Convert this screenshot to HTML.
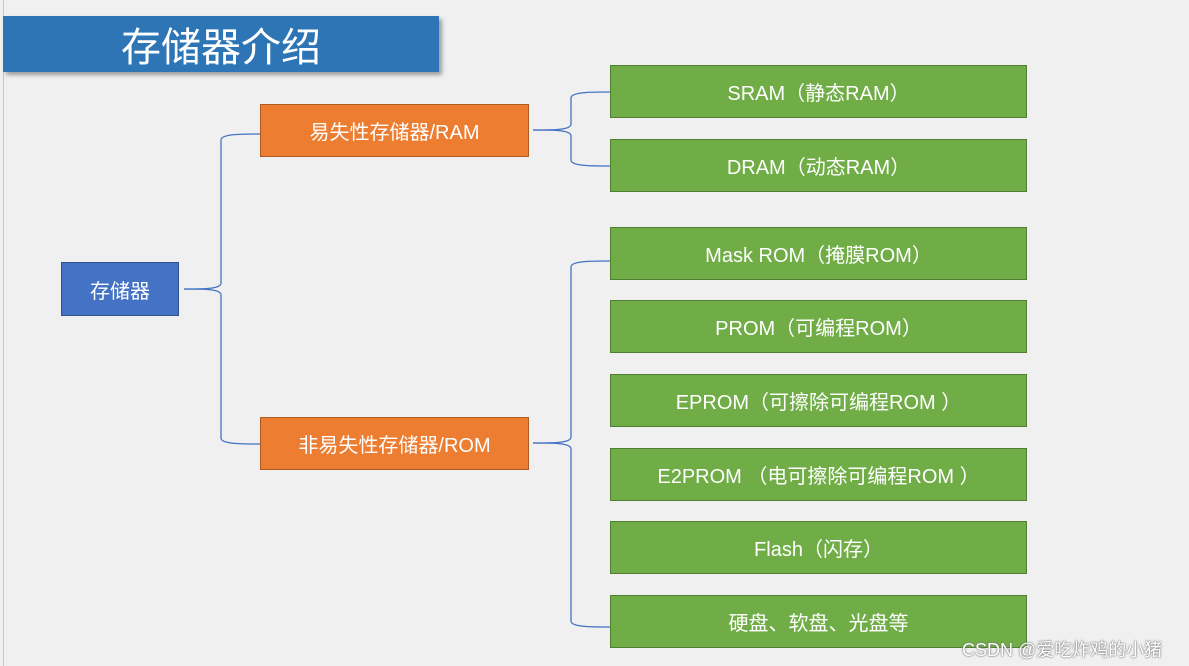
<!DOCTYPE html>
<html><head><meta charset="utf-8"><style>
body{margin:0;width:1189px;height:666px;background:#f0f0f0;position:relative;overflow:hidden;font-family:"Liberation Sans","Noto Sans CJK SC",sans-serif}
.b{position:absolute;display:flex;align-items:center;justify-content:center;color:#fff;box-sizing:border-box;font-size:20px}
.g{background:#70ad47;border:1px solid #507e32;left:610px;width:417px;height:53px}
.o{background:#ed7d31;border:1px solid #ae5a21;left:260px;width:269px;height:53px}
</style></head><body>
<div style="position:absolute;left:3px;top:0;width:1px;height:666px;background:#c8c8c8"></div>
<div class="b" style="left:3px;top:16px;width:436px;height:56px;background:#2e75b6;font-size:40px;box-shadow:3px 3px 4px rgba(0,0,0,.35)">存储器介绍</div>
<svg style="position:absolute;left:0;top:0" width="1189" height="666" fill="none" stroke="#4472c4" stroke-width="1.3">
<path d="M184,289 C205,289 221,289 221,283 L221,140 C221,134 240,134 260,134"/>
<path d="M184,289 C205,289 221,289 221,295 L221,438 C221,444 240,444 260,444"/>
<path d="M533,130 C555,130 571,130 571,124 L571,98 C571,92 590,92 610,92"/>
<path d="M533,130 C555,130 571,130 571,136 L571,160 C571,166 590,166 610,166"/>
<path d="M533,443 C555,443 571,443 571,437 L571,267 C571,261 590,261 610,261"/>
<path d="M533,443 C555,443 571,443 571,449 L571,621 C571,627 590,627 610,627"/>
</svg>
<div class="b" style="left:61px;top:262px;width:118px;height:54px;background:#4472c4;border:1px solid #2f528f">存储器</div>
<div class="b o" style="top:104px">易失性存储器/RAM</div>
<div class="b o" style="top:417px">非易失性存储器/ROM</div>
<div class="b g" style="top:65px">SRAM（静态RAM）</div>
<div class="b g" style="top:139px">DRAM（动态RAM）</div>
<div class="b g" style="top:227px">Mask ROM（掩膜ROM）</div>
<div class="b g" style="top:300px">PROM（可编程ROM）</div>
<div class="b g" style="top:374px">EPROM（可擦除可编程ROM ）</div>
<div class="b g" style="top:448px">E2PROM （电可擦除可编程ROM ）</div>
<div class="b g" style="top:521px">Flash（闪存）</div>
<div class="b g" style="top:595px">硬盘、软盘、光盘等</div>
<div style="position:absolute;left:962px;top:636px;font-size:18px;color:#fff;text-shadow:0 0 2px #777,0 0 1px #555">CSDN @爱吃炸鸡的小猪</div>
</body></html>
